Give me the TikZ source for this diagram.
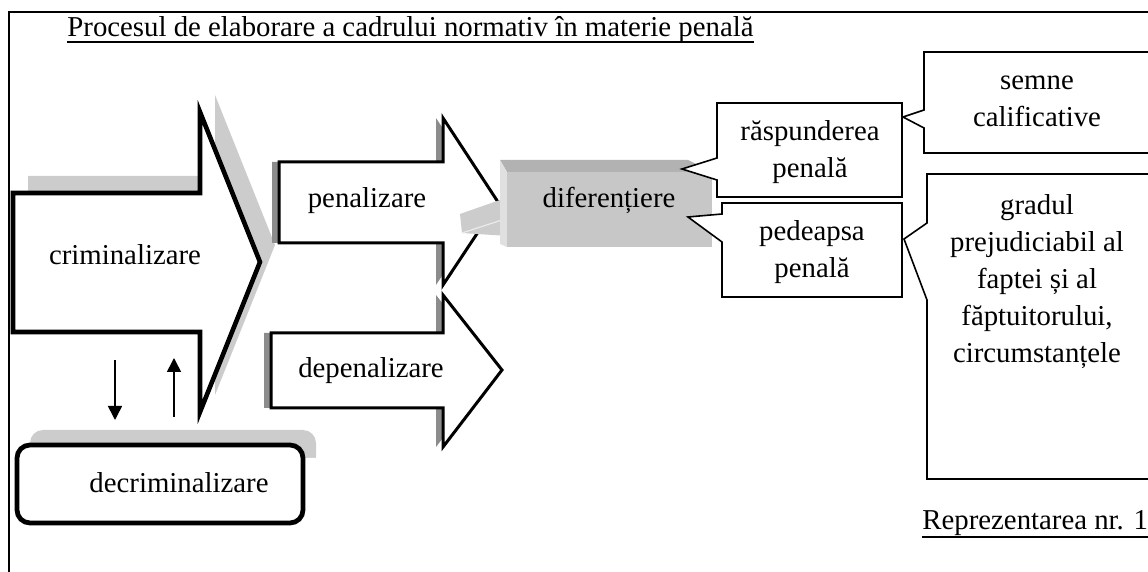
\documentclass[tikz,border=0pt]{standalone}
\usepackage{fontspec}
\setmainfont{Liberation Serif}
\usetikzlibrary{arrows.meta}

\tikzset{
  lbl/.style={font=\fontsize{14.4}{18.5}\selectfont, inner sep=0pt, align=center},
  shadelight/.style={fill=black!20},
  shadedark/.style={fill=black!45},
  boldarrow/.style={draw=black, fill=white, line width=2.3pt, line join=miter},
  midarrow/.style={draw=black, fill=white, line width=1.5pt, line join=miter},
  bubble/.style={draw=black, fill=white, line width=0.8pt},
  flow/.style={-{Triangle[length=7pt,width=7pt]}, line width=0.8pt},
}

\begin{document}
\begin{tikzpicture}[x=0.5pt, y=-0.5pt]
  \useasboundingbox (0,0) rectangle (1148,572);
  % criminalizare, with its shadow up right
  \fill[shadelight, shift={(15,-17)}] (13,193) -- (200,193) -- (200,112) -- (260,262) -- (200,412) -- (200,332) -- (13,332) -- cycle;
  \filldraw[boldarrow] (13,193) -- (200,193) -- (200,112) -- (260,262) -- (200,412) -- (200,332) -- (13,332) -- cycle;
  % penalizare / depenalizare, shadow to the left
  \foreach \yt/\ya/\yb/\yc/\yd/\xl/\xt in {118/162/202/243/285/279/498, 295/333/370/408/447/271/502} {
    \fill[shadedark, shift={(-7,0)}] (\xl,\ya) -- (443,\ya) -- (443,\yt) -- (\xt,\yb) -- (443,\yd) -- (443,\yc) -- (\xl,\yc) -- cycle;
    \filldraw[midarrow] (\xl,\ya) -- (443,\ya) -- (443,\yt) -- (\xt,\yb) -- (443,\yd) -- (443,\yc) -- (\xl,\yc) -- cycle;
  }
  % decriminalizare box
  \fill[shadelight, rounded corners=6.5pt, shift={(13,-15)}] (17,445) rectangle (303,523);
  \fill[white] (300,458) -- (322,458) -- (322,512) -- (300,520) -- cycle;
  \draw[line width=2.4pt, fill=white, rounded corners=6.5pt] (17,445) rectangle (303,523);
  % diferentiere block
  \fill[black!20] (460,214) -- (500,200) -- (508,201) -- (508,236) -- (462,233) -- cycle;
  \draw[black!8, line width=0.6pt] (462,233) -- (508,218);
  \fill[black!30] (500,160) -- (688,160) -- (712,172) -- (507,172) -- cycle;
  \fill[black!12] (500,160) -- (507,172) -- (507,247) -- (500,244) -- cycle;
  \fill[black!22] (507,172) rectangle (712,247);
  % callouts
  \filldraw[bubble] (717,103) -- (902,103) -- (902,197) -- (717,197) -- (717,180) -- (682,169) -- (717,158) -- cycle;
  \filldraw[bubble] (722,203) -- (902,203) -- (902,297) -- (722,297) -- (722,242) -- (688,217) -- (722,214) -- cycle;
  \fill[white] (1148,52) -- (924,52) -- (924,110) -- (903,117) -- (924,128) -- (924,153) -- (1148,153);
  \draw[line width=0.8pt] (1148,52) -- (924,52) -- (924,110) -- (903,117) -- (924,128) -- (924,153) -- (1148,153);
  \draw[line width=0.8pt] (1148,174) -- (927,174) -- (927,223) -- (904,239) -- (927,300) -- (927,479) -- (1148,479);
  % frame
  \draw[line width=0.8pt] (9,572) -- (9,12) -- (1148,12);

  \node[lbl, anchor=base west] (title) at (67,37) {Procesul de elaborare a cadrului normativ în materie penală};
  \draw[line width=0.6pt] ([yshift=-2.5pt]title.base west) -- ([yshift=-2.5pt]title.base east);
  \node[lbl, anchor=base] (crim) at (125,265) {criminalizare};
  \node[lbl, anchor=base] (decrim) at (179,493) {decriminalizare};
  \node[lbl, anchor=base] (pen) at (367,208) {penalizare};
  \node[lbl, anchor=base] (depen) at (371,378) {depenalizare};
  \node[lbl, anchor=base] (dif) at (609,208) {diferențiere};
  \node[lbl] (resp) at (810,152) {răspunderea\\penală};
  \node[lbl] (ped) at (812,252) {pedeapsa\\penală};
  \node[lbl] (semne) at (1037,101) {semne\\calificative};
  \node[lbl] (grad) at (1037,282) {gradul\\prejudiciabil al\\faptei și al\\făptuitorului,\\circumstanțele};
  \node[lbl, anchor=base west] (repr) at (922,530) {Reprezentarea nr. 1};
  \draw[line width=0.6pt] ([yshift=-3.5pt]repr.base west) -- ([yshift=-3.5pt]repr.base east);

  % links between criminalizare and decriminalizare
  \coordinate (down1) at (115,360);
  \coordinate (down2) at (115,420);
  \coordinate (up1) at (174,417);
  \coordinate (up2) at (174,358);
  \draw[flow] (down1) -- (down2);
  \draw[flow] (up1) -- (up2);
\end{tikzpicture}
\end{document}
